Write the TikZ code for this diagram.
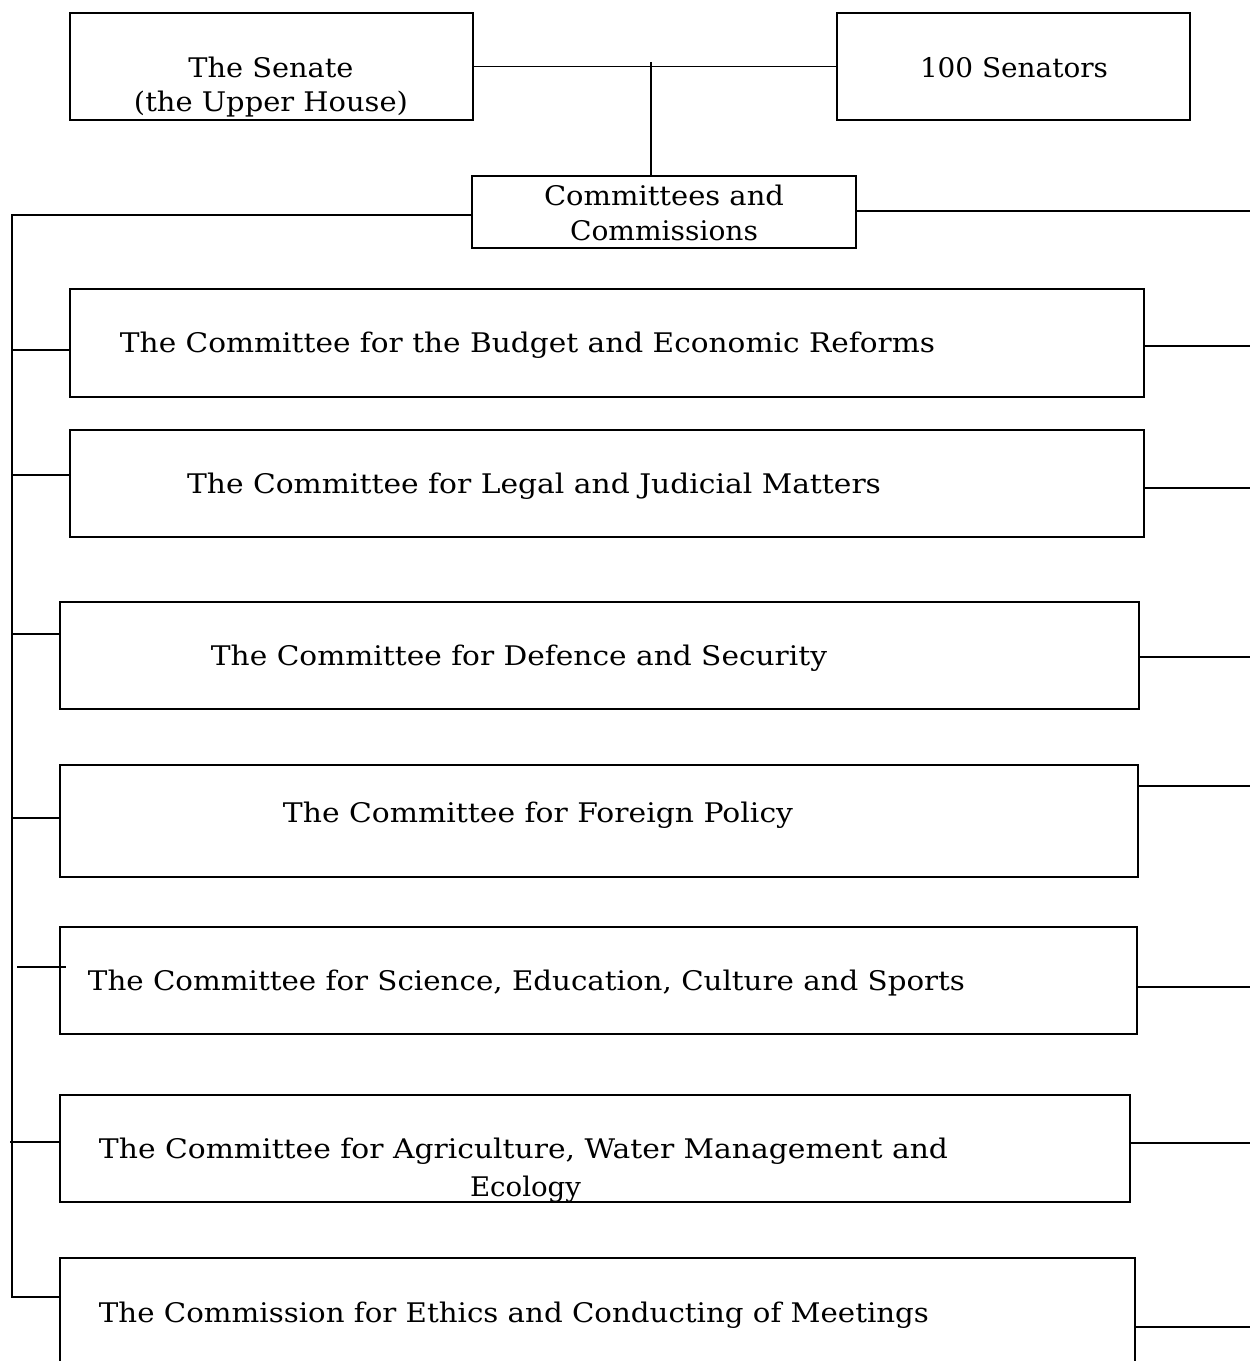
\documentclass[tikz,border=0pt]{standalone}
\usepackage{fontspec}
\setmainfont{DejaVu Serif}
\usepackage{graphicx}
\newcommand\sw[2]{\resizebox{#1pt}{\height}{#2}}
\tikzset{
  box/.style={draw, line width=2.4pt, inner sep=0pt, rectangle},
  txt/.style={anchor=base, inner sep=0pt, font=\fontsize{27}{33}\selectfont},
  conn/.style={line width=1.9pt}
}
\begin{document}
\begin{tikzpicture}[x=1pt,y=-1pt]
\clip (0,0) rectangle (1250,1361);
\fill[white] (0,0) rectangle (1250,1361);
% top boxes
\node[box, minimum width=403pt, minimum height=107pt] (sen) at (271.5,66.5) {};
\node[box, minimum width=353pt, minimum height=107pt] (hund) at (1013.5,66.5) {};
\node[box, minimum width=384pt, minimum height=72pt] (cc) at (664,212) {};
\node[txt] (sent1) at (271,77) {\sw{165}{The Senate}};
\node[txt] (sent2) at (271,111) {\sw{274}{(the Upper House)}};
\node[txt] (hundt) at (1014,77) {\sw{188}{100 Senators}};
\node[txt] (cct1) at (664,205) {\sw{240}{Committees and}};
\node[txt] (cct2) at (664,240) {\sw{188}{Commissions}};
% committee boxes
\node[box, minimum width=1074pt, minimum height=108pt] (b1) at (607,343) {};
\node[box, minimum width=1074pt, minimum height=107pt] (b2) at (607,483.5) {};
\node[box, minimum width=1079pt, minimum height=107pt] (b3) at (599.5,655.5) {};
\node[box, minimum width=1078pt, minimum height=112pt] (b4) at (599,821) {};
\node[box, minimum width=1077pt, minimum height=107pt] (b5) at (598.5,980.5) {};
\node[box, minimum width=1070pt, minimum height=107pt] (b6) at (595,1148.5) {};
\node[box, minimum width=1075pt, minimum height=140pt] (b7) at (597.5,1328) {};
\node[txt] (t1) at (527.5,352) {\sw{815}{The Committee for the Budget and Economic Reforms}};
\node[txt] (t2) at (534,493) {\sw{694}{The Committee for Legal and Judicial Matters}};
\node[txt] (t3) at (519,665) {\sw{616}{The Committee for Defence and Security}};
\node[txt] (t4) at (538,822) {\sw{510}{The Committee for Foreign Policy}};
\node[txt] (t5) at (526.5,990) {\sw{877}{The Committee for Science, Education, Culture and Sports}};
\node[txt] (t6a) at (523.5,1158) {\sw{849}{The Committee for Agriculture, Water Management and}};
\node[txt] (t6b) at (525.5,1196) {\sw{111}{Ecology}};
\node[txt] (t7) at (514,1322) {\sw{830}{The Commission for Ethics and Conducting of Meetings}};
% top connectors
\draw[conn] (sen.east) -- (hund.west);
\coordinate (vtop) at (651,62);
\draw[conn] (vtop) -- (vtop |- cc.north);
% left bus
\coordinate (Ltop) at (12,215);
\coordinate (Lbot) at (12,1297);
\draw[conn] (cc.west |- Ltop) -- (Ltop) -- (Lbot) -- (Lbot -| b7.west);
\coordinate (L1) at (12,350);
\coordinate (L2) at (13,475);
\coordinate (L3) at (12,634);
\coordinate (L4) at (12,818);
\coordinate (L5) at (17,967);
\coordinate (L5e) at (66,967);
\coordinate (L6) at (10,1142);
\draw[conn] (L1) -- (L1 -| b1.west);
\draw[conn] (L2) -- (L2 -| b2.west);
\draw[conn] (L3) -- (L3 -| b3.west);
\draw[conn] (L4) -- (L4 -| b4.west);
\draw[conn] (L5) -- (L5e);
\draw[conn] (L6) -- (L6 -| b6.west);
% right lines
\coordinate (R0) at (1250,211);
\coordinate (R1) at (1250,346);
\coordinate (R2) at (1250,488);
\coordinate (R3) at (1250,657);
\coordinate (R4) at (1250,786);
\coordinate (R5) at (1250,987);
\coordinate (R6) at (1250,1143);
\coordinate (R7) at (1250,1327);
\draw[conn] (cc.east |- R0) -- (R0);
\draw[conn] (b1.east |- R1) -- (R1);
\draw[conn] (b2.east |- R2) -- (R2);
\draw[conn] (b3.east |- R3) -- (R3);
\draw[conn] (b4.east |- R4) -- (R4);
\draw[conn] (b5.east |- R5) -- (R5);
\draw[conn] (b6.east |- R6) -- (R6);
\draw[conn] (b7.east |- R7) -- (R7);
\end{tikzpicture}
\end{document}
